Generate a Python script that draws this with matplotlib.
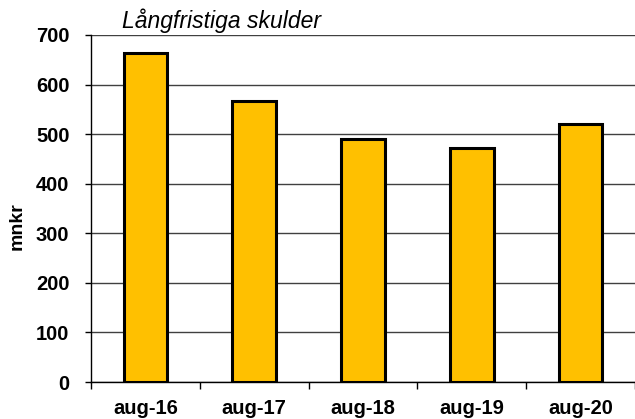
import matplotlib
matplotlib.use('Agg')
import matplotlib.pyplot as plt
import numpy as np

categories = ['aug-16', 'aug-17', 'aug-18', 'aug-19', 'aug-20']
values = [663, 566, 490, 472, 520]

plt.rcParams['font.family'] = ['Liberation Sans', 'DejaVu Sans']

fig = plt.figure(figsize=(6.35, 4.19), dpi=100)
ax = fig.add_axes([0.1433, 0.0883, 0.8567, 0.8282])

x = np.arange(len(categories))
ax.bar(x, values, width=0.4, color='#FFC000', edgecolor='black', linewidth=2.2, zorder=3)

ax.set_xlim(-0.5, len(categories) - 0.5)
ax.set_ylim(0, 700)
ax.set_yticks(range(0, 701, 100))
ax.yaxis.grid(True, color='#404040', linewidth=1, zorder=0)

# ticks between categories, labels centred under bars
ax.set_xticks(np.arange(-0.5, len(categories), 1.0))
ax.set_xticklabels([])
ax.set_xticks(x, minor=True)
ax.set_xticklabels(categories, minor=True, fontsize=14.5, fontweight='bold')
ax.tick_params(axis='x', which='minor', length=0, pad=12)
ax.tick_params(axis='x', which='major', length=5, width=1, color='black')
ax.tick_params(axis='y', length=4.5, width=1, labelsize=14.5, pad=11)
for lab in ax.get_yticklabels():
    lab.set_fontweight('bold')

for side in ['top', 'right']:
    ax.spines[side].set_visible(False)
ax.spines['left'].set_linewidth(1)
ax.spines['bottom'].set_linewidth(1)

fig.text(17 / 635, 1 - 226 / 419, 'mnkr', fontsize=14, fontweight='bold',
         rotation=90, ha='center', va='center')

fig.text(122 / 635, 1 - 28 / 419, 'Långfristiga skulder', fontsize=16.5,
         fontstyle='italic', va='baseline', ha='left')

fig.savefig('out.png', dpi=100)
